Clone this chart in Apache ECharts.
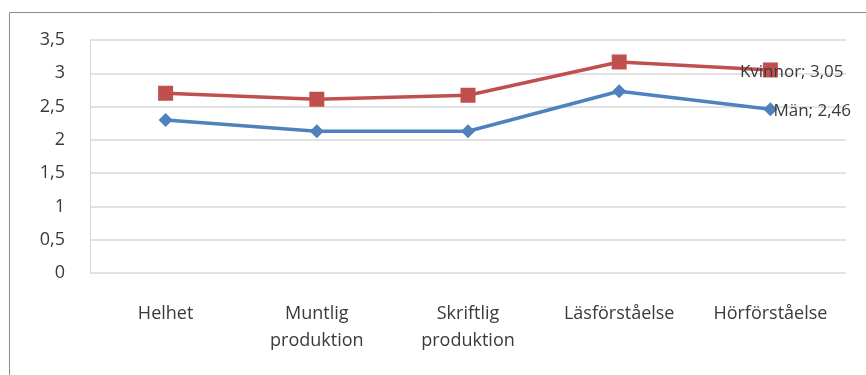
<!DOCTYPE html>
<html>
<head>
<meta charset="utf-8">
<script src="https://cdn.jsdelivr.net/npm/echarts@6/dist/echarts.min.js"></script>
<style>
html, body { margin: 0; padding: 0; background: #fff; }
#chart { width: 866px; height: 375px; }
</style>
</head>
<body>
<div id="chart"></div>
<script>
var categories = ["Helhet", "Muntlig\nproduktion", "Skriftlig\nproduktion", "Läsförståelse", "Hörförståelse"];
var kvinnor = [2.70, 2.61, 2.67, 3.17, 3.05];
var man = [2.30, 2.13, 2.13, 2.73, 2.46];
var yTicks = [0, 0.5, 1, 1.5, 2, 2.5, 3, 3.5];

var chart = echarts.init(document.getElementById("chart"));
var font = "'Open Sans', 'Noto Sans', sans-serif";

function lastLabel(name, dx) {
    return function (i) {
        return {
            show: i === categories.length - 1,
            position: "right",
            offset: [dx, 2],
            distance: 0,
            color: "#3a3a3a",
            fontFamily: font,
            fontSize: 17,
            formatter: function (p) {
                return name + "; " + String(p.value).replace(".", ",");
            }
        };
    };
}

function seriesData(vals, labelFn) {
    return vals.map(function (v, i) {
        return { value: v, label: labelFn(i) };
    });
}

chart.setOption({
    animation: false,
    graphic: [{
        type: "rect",
        shape: { x: 9.5, y: 12.5, width: 870, height: 380 },
        style: { fill: "none", stroke: "#8c8c8c", lineWidth: 1 },
        z: 0
    }],
    grid: { left: 90, right: 20, top: 40, bottom: 102 },
    xAxis: {
        type: "category",
        data: categories,
        boundaryGap: true,
        axisLine: { show: false },
        axisTick: { show: false },
        axisLabel: {
            color: "#3a3a3a",
            fontFamily: font,
            fontSize: 18,
            lineHeight: 27,
            margin: 27
        }
    },
    yAxis: {
        type: "value",
        min: 0,
        max: 3.5,
        interval: 0.5,
        axisLine: { show: true, lineStyle: { color: "#d9d9d9", width: 1 } },
        axisTick: { show: false },
        splitLine: { lineStyle: { color: "#d9d9d9", width: 1.5 } },
        axisLabel: {
            color: "#3a3a3a",
            fontFamily: font,
            fontSize: 18,
            margin: 25,
            formatter: function (v) {
                return yTicks.indexOf(v) >= 0 ? String(v).replace(".", ",") : "";
            }
        }
    },
    series: [{
        name: "Kvinnor",
        type: "line",
        data: seriesData(kvinnor, lastLabel("Kvinnor", -38)),
        symbol: "rect",
        symbolSize: 15,
        lineStyle: { color: "#c0504d", width: 3.5 },
        itemStyle: { color: "#c0504d" },
        z: 3
    }, {
        name: "Män",
        type: "line",
        data: seriesData(man, lastLabel("Män", -4)),
        symbol: "diamond",
        symbolSize: 14,
        lineStyle: { color: "#4f81bd", width: 3.5 },
        itemStyle: { color: "#4f81bd" },
        z: 3
    }]
});
</script>
</body>
</html>
